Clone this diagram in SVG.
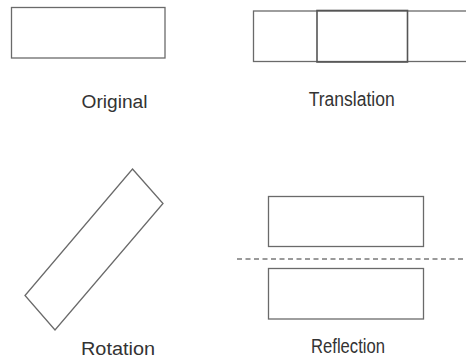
<svg xmlns="http://www.w3.org/2000/svg" width="466" height="362" viewBox="0 0 466 362">
<style>
.shape{fill:#fff;stroke:#6a6a6a;stroke-width:1.3}
.dark{fill:none;stroke:#555;stroke-width:1.6}
.lbl{font-family:"Liberation Sans",Arial,sans-serif;font-size:18px;fill:#333;text-anchor:middle}
.tall{font-size:20px}
.axis{fill:none;stroke:#9a9a9a;stroke-width:2;stroke-dasharray:5 3.5}
</style>
<rect width="466" height="362" fill="#fff"/>
<g id="original">
<rect class="shape" x="11.5" y="7.5" width="153.5" height="50.5"/>
<text class="lbl" x="114.5" y="107.5" textLength="66" lengthAdjust="spacingAndGlyphs">Original</text>
</g>
<g id="translation">
<rect class="shape" x="253.5" y="11" width="220" height="50.5"/>
<rect class="dark" x="317" y="10.5" width="90.5" height="51.5"/>
<text class="lbl tall" x="351.7" y="105.5" textLength="86" lengthAdjust="spacingAndGlyphs">Translation</text>
</g>
<g id="rotation">
<polygon class="shape" points="132.5,169 163,203.5 55,330 25,295.5"/>
<text class="lbl" x="118" y="354.5" textLength="74" lengthAdjust="spacingAndGlyphs">Rotation</text>
</g>
<g id="reflection">
<rect class="shape" x="268.5" y="196.5" width="155" height="50"/>
<rect class="shape" x="268.5" y="268.5" width="155" height="50.5"/>
<text class="lbl tall" x="348" y="352.5" textLength="74" lengthAdjust="spacingAndGlyphs">Reflection</text>
</g>
<g id="connectors">
<line class="axis" x1="237" y1="259" x2="466" y2="259"/>
</g>
</svg>
